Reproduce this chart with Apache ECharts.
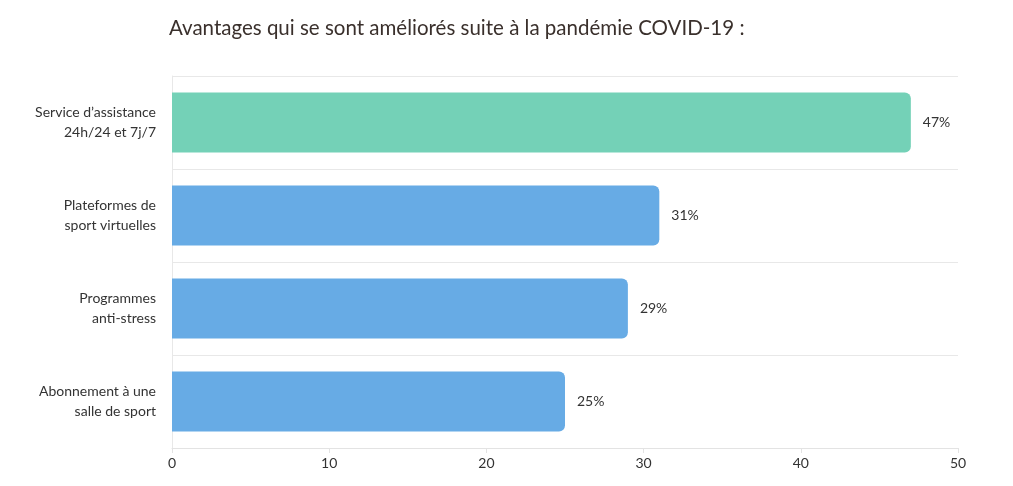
<!DOCTYPE html>
<html><head><meta charset="utf-8">
<script src="https://cdn.jsdelivr.net/npm/echarts@6/dist/echarts.min.js"></script>
<style>html,body{margin:0;padding:0;background:#fff}#c{width:1013px;height:486px}</style>
</head><body><div id="c"></div>
<script>
const categories = ["Service d’assistance\n24h/24 et 7j/7", "Plateformes de\nsport virtuelles", "Programmes\nanti-stress", "Abonnement à une\nsalle de sport"];
const values = [47, 31, 29, 25];
const colors = ["#74d1b7", "#67abe5", "#67abe5", "#67abe5"];
const xTicks = [0, 10, 20, 30, 40, 50];

const chart = echarts.init(document.getElementById('c'));
chart.setOption({
  animation: false,
  title: {
    text: "Avantages qui se sont améliorés suite à la pandémie COVID-19 :",
    left: 164, top: 13,
    textStyle: {fontFamily: "Lato", fontSize: 20.5, fontWeight: "normal", color: "#3a302c"}
  },
  grid: {left: 172, right: 55, top: 76, bottom: 38},
  xAxis: {
    type: "value", min: xTicks[0], max: xTicks[xTicks.length-1], interval: 10,
    axisLine: {show: true, lineStyle: {color: "#e3e3e3"}},
    axisTick: {show: true, length: 5, lineStyle: {color: "#e3e3e3"}},
    splitLine: {show: false},
    axisLabel: {color: "#333", fontFamily: "Lato", fontSize: 14, margin: 8}
  },
  yAxis: {
    type: "category", data: categories, inverse: true,
    axisLine: {show: true, lineStyle: {color: "#e8e8e8"}},
    axisTick: {show: false},
    splitLine: {show: true, lineStyle: {color: "#e8e8e8"}},
    axisLabel: {color: "#333", fontFamily: "Lato", fontSize: 14, lineHeight: 20, margin: 16, align: "right", padding: [0, 0, 4, 0]}
  },
  series: [{
    type: "bar",
    data: values.map((v, i) => ({value: v, itemStyle: {color: colors[i]}})),
    barWidth: 60,
    itemStyle: {borderRadius: [0, 6, 6, 0]},
    label: {show: true, position: "right", distance: 12, formatter: "{c}%", color: "#333", fontFamily: "Lato", fontSize: 14}
  }]
});
</script></body></html>
